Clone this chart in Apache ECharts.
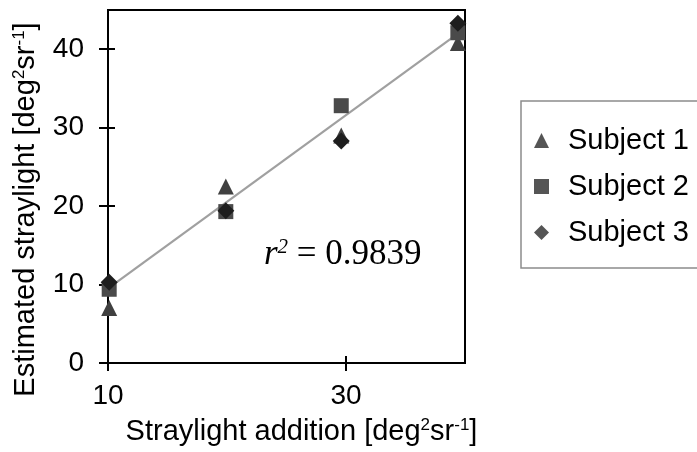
<!DOCTYPE html>
<html>
<head>
<meta charset="utf-8">
<script src="https://cdn.jsdelivr.net/npm/echarts@6/dist/echarts.min.js"></script>
<style>
  html, body { margin: 0; padding: 0; background: #fff; }
  #chart { width: 697px; height: 452px; }
</style>
</head>
<body>
<div id="chart"></div>
<script>
// Tick positions shown on each axis
const xTicks = [10, 30];
const yTicks = [0, 10, 20, 30, 40];

// Measured straylight per subject: [addition, estimate]
const subjectNames = ['Subject 1', 'Subject 2', 'Subject 3'];
const subject1 = [[10.1, 7.0], [19.9, 22.5], [29.6, 29.0], [39.4, 40.8]];
const subject2 = [[10.1, 9.4], [19.9, 19.3], [29.6, 32.8], [39.4, 42.1]];
const subject3 = [[10.1, 10.3], [19.9, 19.4], [29.6, 28.3], [39.4, 43.3]];

// Regression line end points and its coefficient of determination
const fitLine = [[10.1, 9.6], [39.4, 42.0]];
const r2Value = '0.9839';

const SANS = '"Liberation Sans", Arial, sans-serif';
const SERIF = '"Liberation Serif", "Times New Roman", serif';

const supRich = {
  sup: { fontSize: 17, fontFamily: SANS, color: '#000', verticalAlign: 'top', lineHeight: 17 }
};

const chart = echarts.init(document.getElementById('chart'), null, { renderer: 'canvas' });

const baseX = { type: 'value', gridIndex: 0, min: 10, max: 40, position: 'bottom' };
const baseY = { type: 'value', gridIndex: 0, min: 0, max: 45, position: 'left' };

chart.setOption({
  animation: false,
  backgroundColor: '#fff',
  grid: {
    left: 108, right: 232, top: 10, bottom: 89,
    show: true, borderColor: '#000', borderWidth: 2, backgroundColor: 'transparent'
  },
  xAxis: [
    Object.assign({}, baseX, {
      name: 'Straylight addition [deg{sup|2}sr{sup|-1}]',
      nameLocation: 'middle',
      nameGap: 54,
      nameTextStyle: { fontSize: 29, fontFamily: SANS, color: '#000', padding: [0, 0, 0, 30], rich: supRich },
      axisLine: { show: true, onZero: false, lineStyle: { color: '#000', width: 2 } },
      axisTick: { show: true, customValues: xTicks, length: 8, lineStyle: { color: '#000', width: 2 } },
      axisLabel: { customValues: xTicks, fontSize: 28, fontFamily: SANS, color: '#000', margin: 19 },
      splitLine: { show: false }
    }),
    Object.assign({}, baseX, {
      axisLine: { show: false, onZero: false },
      axisTick: { show: true, inside: true, customValues: xTicks, length: 7, lineStyle: { color: '#000', width: 2 } },
      axisLabel: { show: false },
      splitLine: { show: false }
    })
  ],
  yAxis: [
    Object.assign({}, baseY, {
      name: 'Estimated straylight [deg{sup|2}sr{sup|-1}]',
      nameLocation: 'middle',
      nameGap: 68,
      nameRotate: 90,
      nameTextStyle: { fontSize: 29, fontFamily: SANS, color: '#000', padding: [0, 46, 0, 0], rich: supRich },
      axisLine: { show: true, onZero: false, lineStyle: { color: '#000', width: 2 } },
      axisTick: { show: true, customValues: yTicks, length: 9, lineStyle: { color: '#000', width: 2 } },
      axisLabel: { customValues: yTicks, fontSize: 28, fontFamily: SANS, color: '#000', margin: 24 },
      splitLine: { show: false }
    }),
    Object.assign({}, baseY, {
      axisLine: { show: false, onZero: false },
      axisTick: { show: true, inside: true, customValues: yTicks, length: 7, lineStyle: { color: '#000', width: 2 } },
      axisLabel: { show: false },
      splitLine: { show: false }
    })
  ],
  legend: {
    orient: 'vertical',
    left: 521, top: 101,
    padding: [24, 60, 20, 13],
    itemGap: 15,
    itemWidth: 15, itemHeight: 15,
    borderColor: '#8c8c8c', borderWidth: 1.5,
    textStyle: { fontSize: 29, fontFamily: SANS, color: '#000', lineHeight: 31, padding: [0, 0, 0, 14] },
    data: [
      { name: subjectNames[0], itemStyle: { color: '#555' } },
      { name: subjectNames[1], itemStyle: { color: '#555' } },
      { name: subjectNames[2], itemStyle: { color: '#555' } }
    ]
  },
  graphic: [{
    type: 'text',
    left: 264, top: 237,
    style: {
      text: '{i|r}{s|2}{n| = ' + r2Value + '}',
      rich: {
        i: { fontSize: 35, fontFamily: SERIF, fontStyle: 'italic', fill: '#000' },
        s: { fontSize: 21, fontFamily: SERIF, fontStyle: 'italic', fill: '#000', verticalAlign: 'top' },
        n: { fontSize: 35, fontFamily: SERIF, fill: '#000' }
      }
    }
  }],
  series: [
    {
      name: 'fit', type: 'line', data: fitLine, symbol: 'none', silent: true,
      lineStyle: { color: '#a0a0a0', width: 2.2 }, z: 1
    },
    {
      name: subjectNames[0], type: 'scatter', data: subject1,
      symbol: 'triangle', symbolSize: 16, itemStyle: { color: '#404040', opacity: 1 }, z: 3
    },
    {
      name: subjectNames[1], type: 'scatter', data: subject2,
      symbol: 'rect', symbolSize: 15, itemStyle: { color: '#4a4a4a', opacity: 1 }, z: 3
    },
    {
      name: subjectNames[2], type: 'scatter', data: subject3,
      symbol: 'diamond', symbolSize: 17, itemStyle: { color: '#1e1e1e', opacity: 1 }, z: 4
    }
  ]
});
</script>
</body>
</html>
